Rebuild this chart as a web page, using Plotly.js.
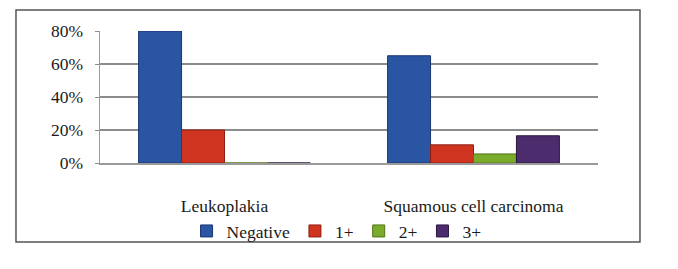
<!DOCTYPE html>
<html>
<head>
<meta charset="utf-8">
<script src="https://cdn.plot.ly/plotly-3.0.1.min.js"></script>
<style>
html,body{margin:0;padding:0;background:#fff;}
#chart{width:678px;height:269px;}
</style>
</head>
<body>
<div id="chart"></div>
<script>
var categories = ["Leukoplakia", "Squamous cell carcinoma"];
var seriesNames = ["Negative", "1+", "2+", "3+"];
var negative = [0.80, 0.65];
var plus1 = [0.20, 0.11];
var plus2 = [0.00, 0.055];
var plus3 = [0.00, 0.165];
var tickVals = [0, 0.2, 0.4, 0.6, 0.8];
var tickText = ["0%", "20%", "40%", "60%", "80%"];
var colors = ["#2a55a3", "#cf3420", "#7aab2a", "#4d2c6e"];
var lineColors = ["#1a3570", "#8e1f12", "#4f7418", "#2a173f"];

var values = [negative, plus1, plus2, plus3];
var traces = values.map(function (v, i) {
  return {
    type: "bar",
    name: seriesNames[i],
    x: categories,
    y: v,
    marker: {color: colors[i], line: {color: lineColors[i], width: 1}},
    hoverinfo: "none"
  };
});

var serif = "Liberation Serif, Times New Roman, serif";

var layout = {
  width: 678,
  height: 269,
  margin: {l: 100, r: 80, t: 31, b: 106, pad: 0},
  paper_bgcolor: "#ffffff",
  plot_bgcolor: "#ffffff",
  font: {family: serif, size: 17.5, color: "#1a1a1a"},
  barmode: "group",
  bargap: 0.31,
  bargroupgap: 0,
  showlegend: true,
  legend: {
    orientation: "h",
    xref: "paper", x: 0.475, xanchor: "center",
    yref: "container", y: 0.141, yanchor: "middle",
    bgcolor: "rgba(0,0,0,0)",
    font: {family: serif, size: 17.5},
    itemwidth: 30,
    tracegroupgap: 0,
    traceorder: "normal"
  },
  xaxis: {
    showgrid: false,
    zeroline: false,
    showline: true,
    linecolor: "#9a9a9a",
    linewidth: 1.5,
    ticks: "",
    ticklabelstandoff: 26,
    tickfont: {family: serif, size: 17.5}
  },
  yaxis: {
    range: [0, 0.8],
    tickvals: tickVals,
    ticktext: tickText,
    showgrid: true,
    gridcolor: "#8c8c8c",
    gridwidth: 1.5,
    zeroline: false,
    showline: true,
    linecolor: "#9a9a9a",
    linewidth: 1.5,
    ticks: "outside",
    ticklen: 4,
    tickcolor: "#8c8c8c",
    ticklabelstandoff: 8,
    tickfont: {family: serif, size: 17.5}
  },
  shapes: [{
    type: "rect",
    xref: "paper", yref: "paper",
    x0: -0.1687, x1: 1.0843, y0: -0.598, y1: 1.159,
    line: {color: "#555555", width: 1.5},
    fillcolor: "rgba(0,0,0,0)",
    layer: "below"
  }]
};

Plotly.newPlot("chart", traces, layout, {staticPlot: true, displayModeBar: false});
</script>
</body>
</html>
